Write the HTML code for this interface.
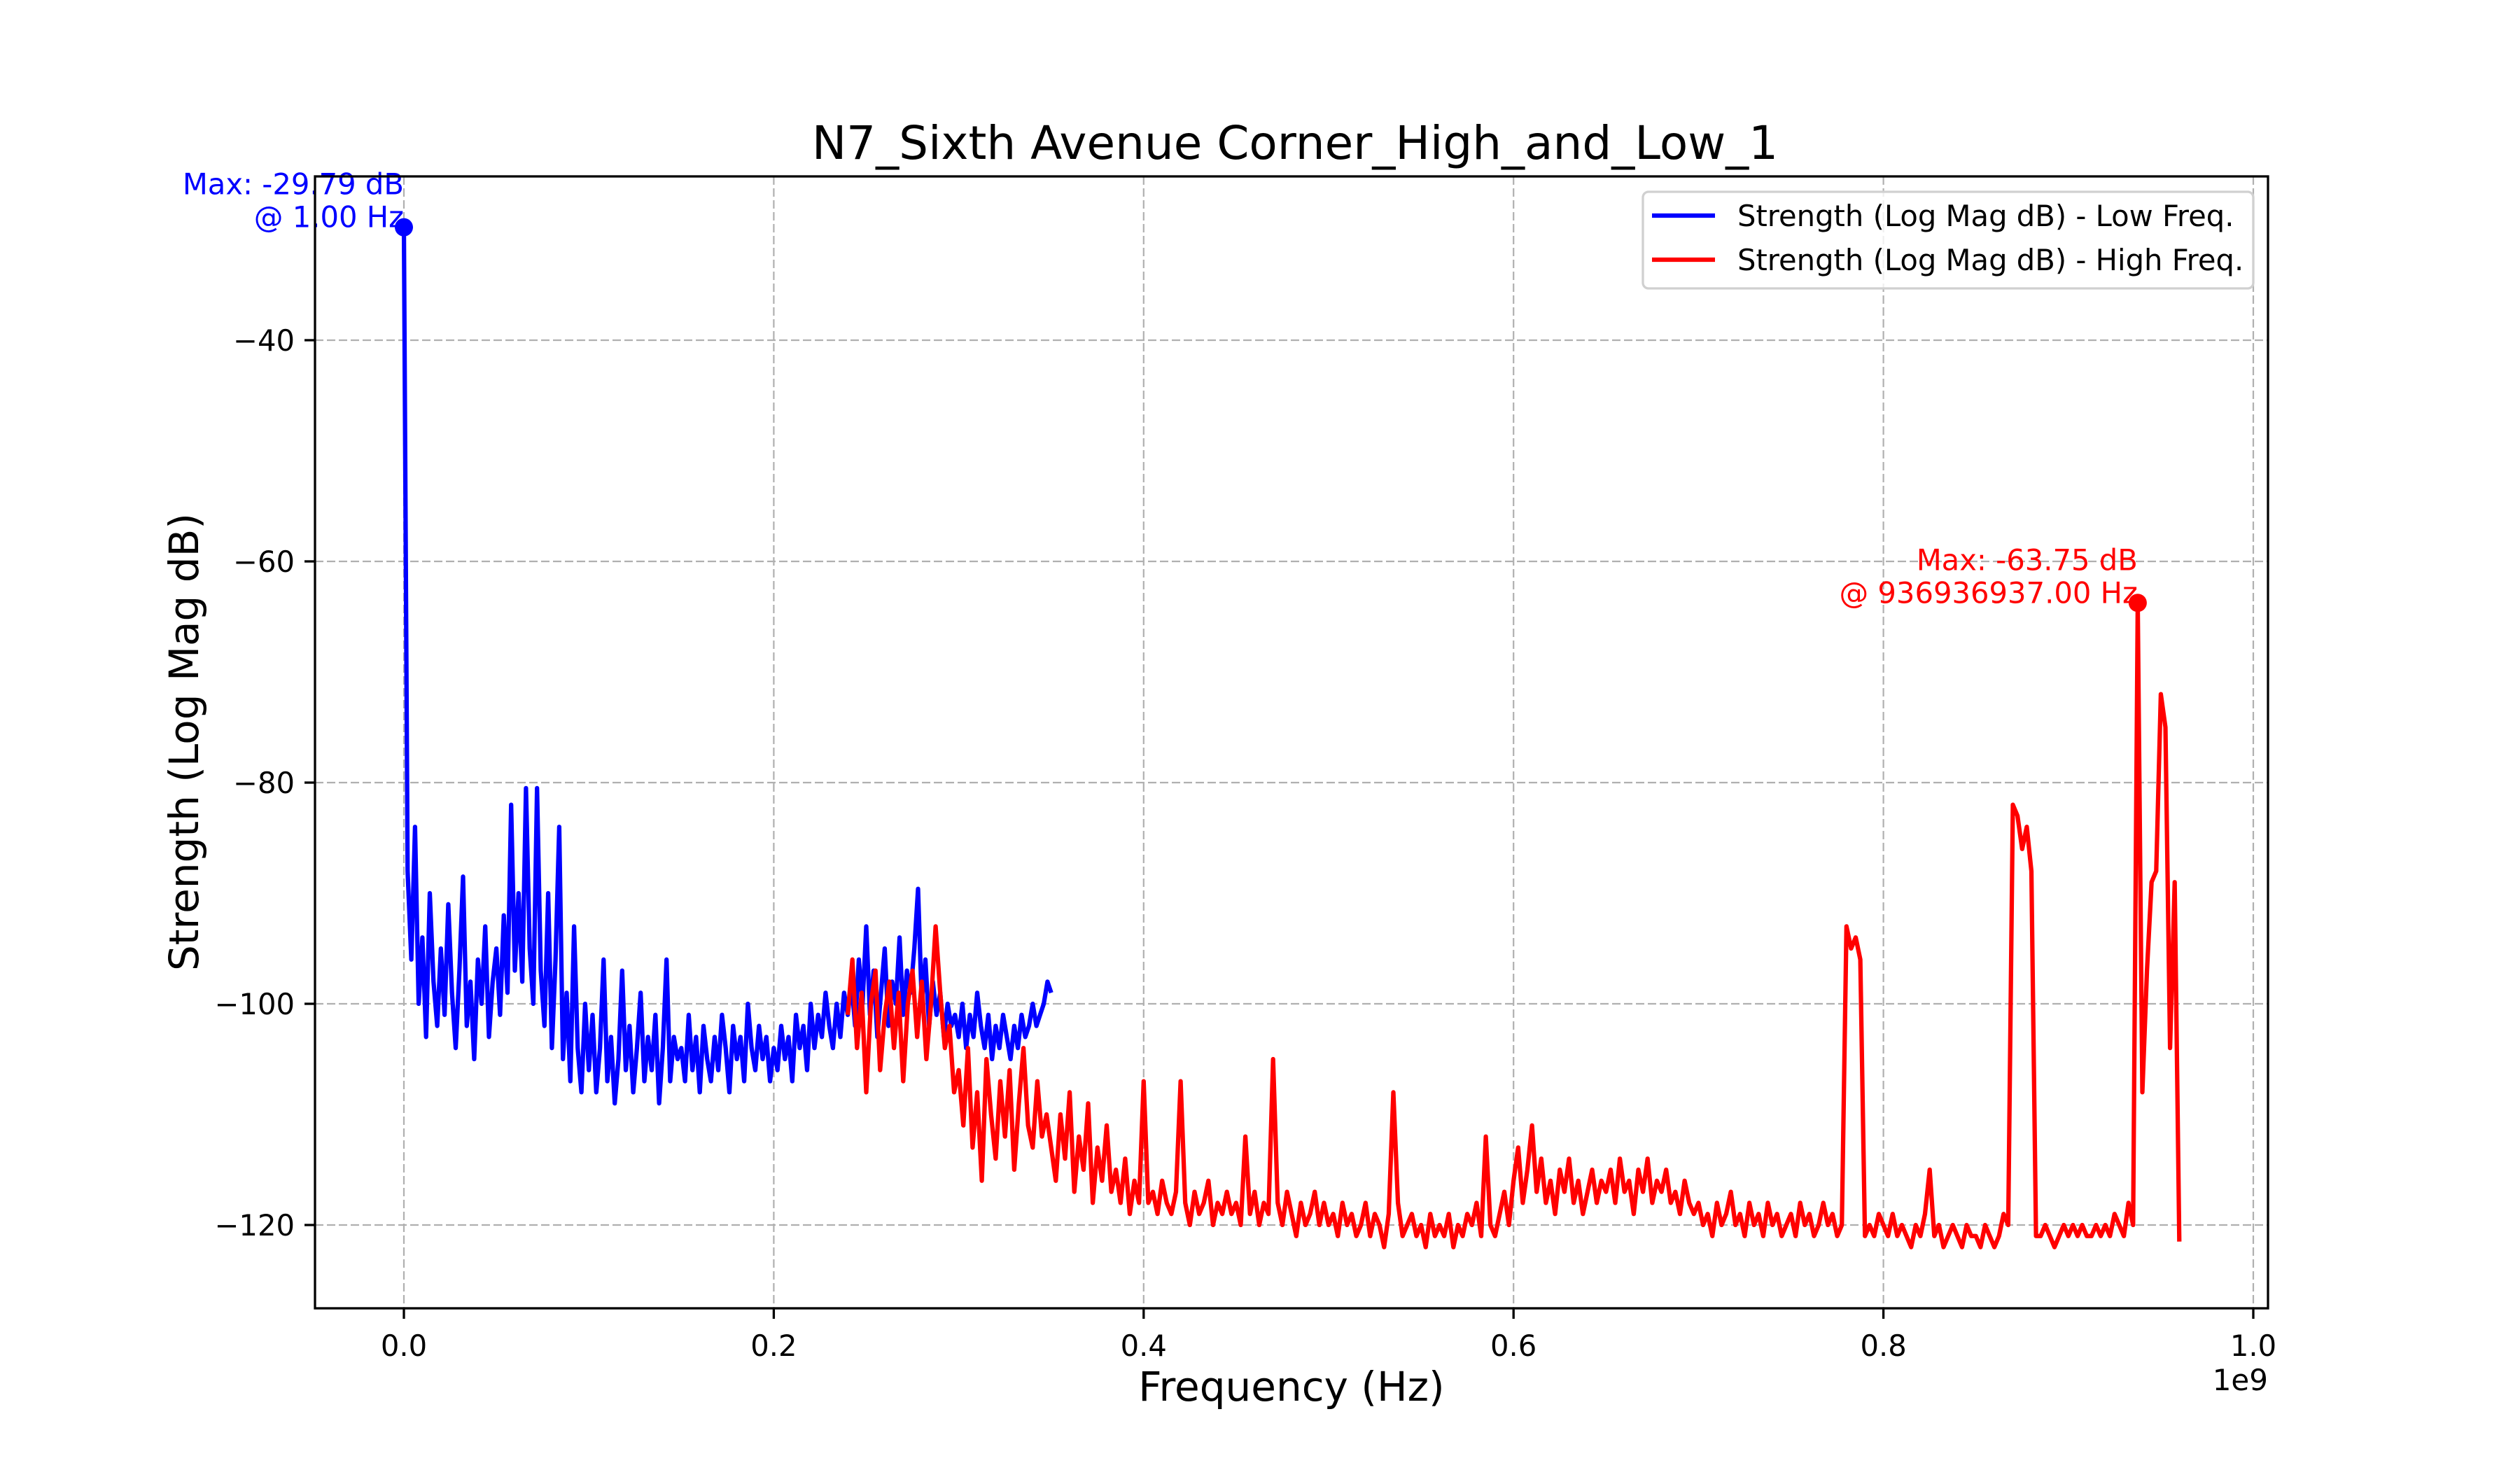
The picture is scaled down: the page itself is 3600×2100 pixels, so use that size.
<!DOCTYPE html>
<html><head><meta charset="utf-8"><style>
html,body{margin:0;padding:0;background:#fff;}
svg{display:block;font-family:"DejaVu Sans","Liberation Sans",sans-serif;}
</style></head><body>
<svg id="chart" xmlns="http://www.w3.org/2000/svg" width="3600" height="2100" viewBox="0 0 3600 2100">
<rect x="0" y="0" width="3600" height="2100" fill="#fff"/>
<text x="1850" y="227" font-size="66" text-anchor="middle" fill="#000">N7_Sixth Avenue Corner_High_and_Low_1</text>
<text x="1845" y="2001" font-size="58" text-anchor="middle" fill="#000">Frequency (Hz)</text>
<text x="0" y="0" font-size="58" text-anchor="middle" fill="#000" transform="translate(283,1060) rotate(-90)">Strength (Log Mag dB)</text>
<text x="3240" y="1986" font-size="42" text-anchor="end" fill="#000">1e9</text>
<g id="grid"></g>
<g id="ticks"></g>
<g id="series"></g>
<g id="annots"></g>
<rect x="450" y="252" width="2790" height="1617" fill="none" stroke="#000" stroke-width="3.3"/>
<g>
<rect x="2347" y="274" width="872" height="138" rx="8" fill="#fff" fill-opacity="0.8" stroke="#d0d0d0" stroke-width="3.3"/>
<line x1="2360" y1="308" x2="2450" y2="308" stroke="#0000ff" stroke-width="6.25"/>
<text x="2482" y="323" font-size="41.7" fill="#000">Strength (Log Mag dB) - Low Freq.</text>
<line x1="2360" y1="371" x2="2450" y2="371" stroke="#ff0000" stroke-width="6.25"/>
<text x="2482" y="386" font-size="41.7" fill="#000">Strength (Log Mag dB) - High Freq.</text>
</g>
</svg>
<script>
const xTicks=[0,0.2,0.4,0.6,0.8,1.0];
const xTickLabels=["0.0","0.2","0.4","0.6","0.8","1.0"];
const yTicks=[-120,-100,-80,-60,-40];
const yTickLabels=["\u2212120","\u2212100","\u221280","\u221260","\u221240"];
const lowStart=0.000000001, lowStep=0.002;
const lowValues=[
-29.79,-88,-96,-84,-100,-94,-103,-90,-98,-102,-95,-101,-91,-99,-104,-97,-88.5,-102,-98,-105,-96,-100,-93,-103,-98,
-95,-101,-92,-99,-82,-97,-90,-98,-80.5,-95,-100,-80.5,-97,-102,-90,-104,-96,-84,-105,-99,-107,-93,-104,-108,-100,
-106,-101,-108,-104,-96,-107,-103,-109,-105,-97,-106,-102,-108,-104,-99,-107,-103,-106,-101,-109,-104,-96,-107,-103,-105,
-104,-107,-101,-106,-103,-108,-102,-105,-107,-103,-106,-101,-104,-108,-102,-105,-103,-107,-100,-104,-106,-102,-105,-103,-107,
-104,-106,-102,-105,-103,-107,-101,-104,-102,-106,-100,-104,-101,-103,-99,-102,-104,-100,-103,-99,-101,-98,-102,-96,-100,
-93,-101,-97,-103,-99,-95,-102,-98,-100,-94,-101,-97,-99,-95,-89.6,-100,-96,-102,-98,-101,-99,-103,-100,-102,-101,
-103,-100,-104,-101,-103,-99,-102,-104,-101,-105,-102,-104,-101,-103,-105,-102,-104,-101,-103,-102,-100,-102,-101,-100,-98,-99];
const highStart=0.24, highStep=0.0025;
const highValues=[
-101,-96,-104,-99,-108,-100,-97,-106,-101,-98,-104,-99,-107,-100,-97,-103,-98,-105,-100,-93,-99,-104,-102,-108,
-106,-111,-104,-113,-108,-116,-105,-110,-114,-107,-112,-106,-115,-109,-104,-111,-113,-107,-112,-110,
-113,-116,-110,-114,-108,-117,-112,-115,-109,-118,-113,-116,-111,-117,-115,-118,-114,-119,-116,-118,
-107,-118,-117,-119,-116,-118,-119,-117,-107,-118,-120,-117,-119,-118,-116,-120,-118,-119,-117,-119,
-118,-120,-112,-119,-117,-120,-118,-119,-105,-118,-120,-117,-119,-121,-118,-120,-119,-117,-120,-118,
-120,-119,-121,-118,-120,-119,-121,-120,-118,-121,-119,-120,-122,-119,-108,-118,-121,-120,-119,-121,
-120,-122,-119,-121,-120,-121,-119,-122,-120,-121,-119,-120,-118,-121,-112,-120,-121,-119,-117,-120,
-116,-113,-118,-115,-111,-117,-114,-118,-116,-119,-115,-117,-114,-118,-116,-119,-117,-115,-118,-116,
-117,-115,-118,-114,-117,-116,-119,-115,-117,-114,-118,-116,-117,-115,-118,-117,-119,-116,-118,-119,
-118,-120,-119,-121,-118,-120,-119,-117,-120,-119,-121,-118,-120,-119,-121,-118,-120,-119,-121,-120,
-119,-121,-118,-120,-119,-121,-120,-118,-120,-119,-121,-120,-93,-95,-94,-96,-121,-120,-121,-119,
-120,-121,-119,-121,-120,-121,-122,-120,-121,-119,-115,-121,-120,-122,-121,-120,-121,-122,-120,-121,
-121,-122,-120,-121,-122,-121,-119,-120,-82,-83,-86,-84,-88,-121,-121,-120,-121,-122,-121,-120,
-121,-120,-121,-120,-121,-121,-120,-121,-120,-121,-119,-120,-121,-118,-120,-63.75,-108,-97,-89,-88,
-72,-75,-104,-89,-121.5];
const NS="http://www.w3.org/2000/svg";
function X(v){return 577+v*2642;}
function Y(d){return 486-(d+40)*15.8;}
function mk(tag,attrs,parent){const e=document.createElementNS(NS,tag);for(const k in attrs)e.setAttribute(k,attrs[k]);parent.appendChild(e);return e;}
const grid=document.getElementById('grid'),ticks=document.getElementById('ticks'),series=document.getElementById('series'),annots=document.getElementById('annots');
xTicks.forEach((t,i)=>{
 const gl=mk('line',{x1:X(t),x2:X(t),y1:252,y2:1869,stroke:'#b0b0b0','stroke-width':2.2,'stroke-dasharray':'12,5'},grid);
 
 
 const tk=mk('line',{x1:X(t),x2:X(t),y1:1869,y2:1884,stroke:'#000','stroke-width':3.3},ticks);
 
 
 const tl=mk('text',{x:X(t),y:1937,'font-size':41.7,'text-anchor':'middle',fill:'#000'},ticks);
 tl.textContent=xTickLabels[i];
 
 
});
yTicks.forEach((t,i)=>{
 const gl=mk('line',{x1:450,x2:3240,y1:Y(t),y2:Y(t),stroke:'#b0b0b0','stroke-width':2.2,'stroke-dasharray':'12,5'},grid);
 
 
 const tk=mk('line',{x1:435,x2:450,y1:Y(t),y2:Y(t),stroke:'#000','stroke-width':3.3},ticks);
 
 
 const tl=mk('text',{x:421,y:Y(t)+15,'font-size':41.7,'text-anchor':'end',fill:'#000'},ticks);
 tl.textContent=yTickLabels[i];
 
 
});
function freqAt(start,step,i){return i===0?start:(start<0.01?i*step:start+i*step);}
function drawSeries(start,step,vals,color,name){
 const pts=vals.map((v,i)=>X(freqAt(start,step,i)).toFixed(1)+','+Y(v).toFixed(1));
 const pl=mk('polyline',{points:pts.join(' '),fill:'none',stroke:color,'stroke-width':6.25,'stroke-linejoin':'round'},series);
 
 
 let mi=0;vals.forEach((v,i)=>{if(v>vals[mi])mi=i;});
 return {x:X(freqAt(start,step,mi)),y:Y(vals[mi]),v:vals[mi]};
}
const lowMax=drawSeries(lowStart,lowStep,lowValues,'#0000ff','low-freq-line');
const highMax=drawSeries(highStart,highStep,highValues,'#ff0000','high-freq-line');
function annot(m,color,l1,l2,name){
 const c=mk('circle',{cx:m.x,cy:m.y,r:13,fill:color},annots);
 
 
 const t1=mk('text',{x:m.x,y:m.y-47,'font-size':41.7,'text-anchor':'end',fill:color},annots);
 t1.textContent=l1;
 
 
 const t2=mk('text',{x:m.x,y:m.y,'font-size':41.7,'text-anchor':'end',fill:color},annots);
 t2.textContent=l2;
 
 
}
annot(lowMax,'#0000ff','Max: -29.79 dB','@ 1.00 Hz','low-max');
annot(highMax,'#ff0000','Max: -63.75 dB','@ 936936937.00 Hz','high-max');
</script>
</body></html>
